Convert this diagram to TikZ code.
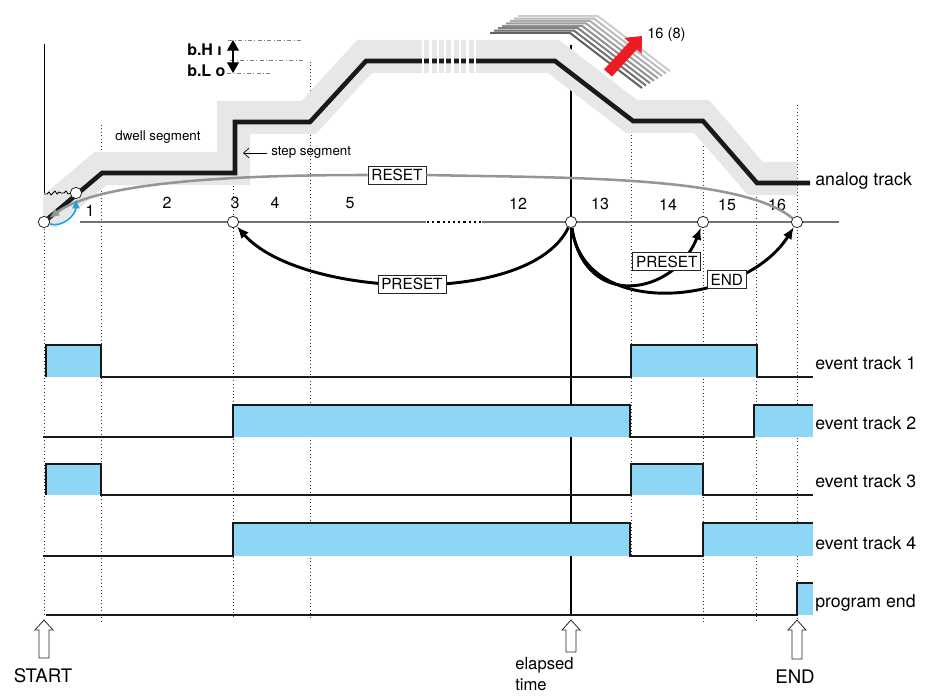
\documentclass[tikz,border=0pt]{standalone}
\usepackage{fontspec}
\setmainfont{TeX Gyre Heros}
\usetikzlibrary{arrows.meta, positioning}

\definecolor{evblue}{HTML}{8ED6F5}
\definecolor{bandgray}{HTML}{E6E7E8}
\definecolor{resetgray}{HTML}{959595}
\definecolor{rampblue}{HTML}{1BA3DE}
\definecolor{markred}{HTML}{ED1C24}

\tikzset{
  pics/upmark/.style={code={
    \draw[fill=white, line width=0.6pt, draw=black!85]
      (0,0) -- (9,10) -- (5,10) -- (5,#1) -- (-5,#1) -- (-5,10) -- (-9,10) -- cycle;
  }}
}

\begin{document}
\begin{tikzpicture}[
    x=0.75pt, y=-0.75pt,
    font=\fontsize{13.3}{15}\selectfont,
    grid/.style={dotted, line width=0.6pt, black!80},
    limit/.style={dash dot, line width=0.5pt, black!50},
    band/.style={draw=bandgray, line width=24.75pt, line join=miter},
    analog/.style={draw=black!90, line width=3.4pt, line join=miter},
    track/.style={draw=black!90, line width=2.2pt, line join=miter},
    pulse/.style={fill=evblue},
    point/.style={circle, draw=black!85, fill=white, line width=0.6pt,
      inner sep=0pt, minimum size=8.5pt},
    seg/.style={font=\fontsize{12}{14}\selectfont},
    tag/.style={draw=black!85, fill=white, line width=0.6pt,
      inner xsep=2.5pt, inner ysep=2.3pt, font=\fontsize{11.5}{13}\selectfont},
    jump/.style={line width=2.2pt, -{Latex[length=9pt, width=7.5pt]}},
    trk/.style={anchor=west, inner sep=1.5pt},
    note/.style={font=\fontsize{10}{12}\selectfont},
    disp/.style={font=\bfseries\fontsize{12}{12}\selectfont, anchor=west, inner sep=0pt}
  ]
  \useasboundingbox (0,0) rectangle (930,695);

  % time grid
  \draw[grid] (44,222) -- (44,615);
  \draw[grid] (101,125) -- (101,623);
  \draw[grid] (233,186) -- (233,617);
  \draw[grid] (310,62) -- (310,620);
  \draw[grid] (631,135) -- (631,556);
  \draw[grid] (703,143) -- (703,622);
  \draw[grid] (756,190) -- (756,622);
  \draw[grid] (797,105) -- (797,622);
  \draw[line width=0.6pt] (44,44) -- (44,193);
  \draw[line width=1.9pt] (571,45) -- (571,616);

  % band limits
  \draw[limit] (228,40) -- (303,40);
  \draw[limit] (230,60) -- (305,60);
  \draw[limit] (227,73) -- (270,73);
  \coordinate (bhtip) at (233,40);
  \coordinate (bltip) at (233,73);
  \draw[line width=0.8pt, {Triangle[length=8pt, width=9pt]}-{Triangle[length=8pt, width=9pt]}] (bhtip) -- (bltip);
  \node[disp] (bh) at (187,50) {b.H ı};
  \node[disp] (bl) at (187,71) {b.L o};

  % analog track
  \begin{scope}
    \clip (43,0) rectangle (930,226);
    \draw[band] (31,227) -- (100.5,168.5) -- (233.5,168.5) -- (233.5,117.5) -- (308.5,117.5)
      -- (364.5,56.5) -- (553.5,56.5) -- (631.5,116.5) -- (701.5,116.5) -- (755.5,178.5) -- (797,178.5);
  \end{scope}
  \draw[analog] (44,222) -- (102,173) -- (235,173) -- (235,122) -- (310,122) -- (366,61)
    -- (555,61) -- (633,121) -- (703,121) -- (757,183) -- (810,183);
  \foreach \k in {0,...,7}
    \draw[white, line width=1.8pt] (423+7.4*\k,38) -- ++(0,37);
  \foreach \k in {7,6,...,0}{
    \pgfmathtruncatemacro\shade{62-6*\k}
    \draw[black!\shade, line width=1.5pt] (490+4*\k,33-2.4*\k) -- ++(80,0) -- ++(72,55);
  }
  \draw[line width=0.6pt] (44,194) -- (47,194) -- (49,192) -- (51,195) -- (53,193) -- (55,191)
    -- (57,194) -- (59,192) -- (61,193) -- (64,193) -- (66,191) -- (68,194) -- (72,193);

  \coordinate (redtail) at (608,73);
  \coordinate (redtip) at (642,36);
  \draw[markred, line width=8pt, -{Triangle[length=10pt, width=17pt]}] (redtail) -- (redtip);
  \node[font=\fontsize{11}{13}\selectfont, anchor=west, inner sep=0pt] (cnt) at (647,35) {16 (8)};

  \node[note] (dwell) at (158,137) {dwell segment};
  \node[note, anchor=west, inner sep=0pt] (stp) at (271,153) {step segment};
  \coordinate (stepedge) at (243,153);
  \draw[line width=0.5pt, -{Straight Barb[length=4pt, width=7pt]}] ([xshift=-3pt]stp.west) -- (stepedge);
  \node[trk] (ana) at (813,181) {analog track};

  % segments
  \draw[black!55, line width=1.1pt] (80,222) -- (426,222);
  \draw[black!55, line width=1.1pt] (482,222) -- (839,222);
  \draw[line width=1.4pt, dash pattern=on 1.6pt off 2.3pt] (427,222) -- (482,222);
  \foreach \n/\x/\y in {1/90/211, 2/167/203, 3/235/203, 4/275/203, 5/350/203,
      12/518/204, 13/600/204, 14/668/205, 15/727/205, 16/777/205}
    \node[seg] (s\n) at (\x,\y) {\n};

  \node[point] (pS) at (44,222) {};
  \node[point] (pA) at (76,193) {};
  \node[point] (p3) at (233,222) {};
  \node[point] (p13) at (571,222) {};
  \node[point] (p15) at (703,222) {};
  \node[point] (pE) at (797,222) {};

  \node[tag] (rst) at (397,175) {RESET};
  \draw[resetgray, line width=1.9pt, -{Latex[length=8pt, width=6.5pt]}]
    (pE) .. controls (740,175) and (560,178) .. (rst.east)
    (rst.west) .. controls (250,175) and (100,180) .. (pS);
  \draw[rampblue, line width=1.2pt, -{Latex[length=7pt, width=6pt]}] (pS) .. controls (62,228) and (76,215) .. (pA);

  \draw[jump] (p13) .. controls (530,308) and (300,298) .. node[tag] (pre1) {PRESET} (p3);
  \draw[jump] (p13) .. controls (585,322) and (745,305) .. node[tag, pos=0.7] (fin) {END} (pE);
  \draw[jump] (p13) .. controls (585,312) and (675,295) .. node[tag, pos=0.8, xshift=-9pt] (pre2) {PRESET} (p15);

  % event tracks
  \fill[pulse] (46,345) rectangle (101,377);
  \fill[pulse] (631,345) rectangle (757,377);
  \fill[pulse] (233,405) rectangle (630,437);
  \fill[pulse] (754,405) rectangle (813,437);
  \fill[pulse] (46,464) rectangle (101,495);
  \fill[pulse] (631,464) rectangle (703,495);
  \fill[pulse] (233,523) rectangle (630,556);
  \fill[pulse] (703,523) rectangle (813,556);
  \fill[pulse] (797,583) rectangle (813,615);
  \draw[track] (46,377) -- (46,345) -- (101,345) -- (101,377) -- (631,377) -- (631,345)
    -- (757,345) -- (757,377) -- (813,377);
  \draw[track] (43,437) -- (233,437) -- (233,405) -- (630,405) -- (630,437) -- (754,437)
    -- (754,405) -- (813,405);
  \draw[track] (46,495) -- (46,464) -- (101,464) -- (101,495) -- (631,495) -- (631,464)
    -- (703,464) -- (703,495) -- (813,495);
  \draw[track] (43,556) -- (233,556) -- (233,523) -- (630,523) -- (630,556) -- (703,556)
    -- (703,523) -- (813,523);
  \draw[track] (46,615) -- (797,615) -- (797,583) -- (813,583);
  \node[trk] (ev1) at (813,363) {event track 1};
  \node[trk] (ev2) at (813,423) {event track 2};
  \node[trk] (ev3) at (813,481) {event track 3};
  \node[trk] (ev4) at (813,543) {event track 4};
  \node[trk] (pend) at (813,603) {program end};

  % markers
  \pic at (44,620) {upmark=38};
  \pic at (571,620) {upmark=32};
  \pic at (797,620) {upmark=39};
  \node[font=\fontsize{14}{16}\selectfont] (start) at (43,676) {START};
  \node[font=\fontsize{12.5}{15.75}\selectfont, align=left, anchor=north west, inner sep=0pt] (elap) at (515,657) {elapsed\\time};
  \node[font=\fontsize{14}{16}\selectfont] (stop) at (795,677) {END};
\end{tikzpicture}
\end{document}
